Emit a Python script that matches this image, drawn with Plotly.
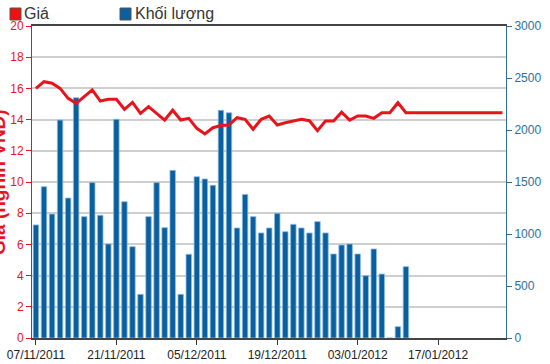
import pandas as pd
import plotly.graph_objects as go

# Trading days starting 07/11/2011 (02/01/2012 was a market holiday)
dates = [d.strftime("%d/%m/%Y")
         for d in pd.bdate_range("2011-11-07", periods=59, freq="C", holidays=["2012-01-02"])]

# Price (nghìn VNĐ), one value per trading day
price = [16.0, 16.43, 16.33, 16.0, 15.36, 15.04, 15.47, 15.9, 15.19, 15.3,
         15.3, 14.66, 15.1, 14.4, 14.83, 14.4, 13.97, 14.6, 13.97, 14.08,
         13.44, 13.08, 13.48, 13.62, 13.65, 14.12, 14.02, 13.38, 14.02, 14.23,
         13.65, 13.8, 13.91, 14.02, 13.93, 13.29, 13.91, 13.91, 14.47, 13.97,
         14.23, 14.23, 14.08, 14.44, 14.44, 15.08, 14.44, 14.44, 14.44, 14.44,
         14.44, 14.44, 14.44, 14.44, 14.44, 14.44, 14.44, 14.44, 14.44]

# Volume, one value per trading day (first 47 days)
volume = [1087, 1455, 1192, 2096, 1346, 2311, 1167, 1494, 1180, 904,
          2103, 1311, 878, 420, 1167, 1494, 1061, 1612, 420, 805,
          1551, 1529, 1468, 2189, 2166, 1058, 1381, 1167, 1010, 1058,
          1199, 1022, 1093, 1058, 1010, 1119, 1010, 808, 894, 904,
          808, 599, 856, 615, 0, 109, 686]

tick_labels = [dates[i] for i in range(0, 59, 10)]

RED = "#e8141b"
BLUE = "#0a5f9e"
AXBLUE = "#2e6f98"

fig = go.Figure()
fig.add_trace(go.Bar(
    x=dates[:len(volume)], y=volume, name="Khối lượng", yaxis="y",
    marker=dict(color=BLUE, line=dict(color="#8fbbe0", width=0.8)),
    showlegend=False,
))
fig.add_trace(go.Scatter(
    x=dates, y=price, name="Giá", yaxis="y2", mode="lines",
    line=dict(color=RED, width=3), showlegend=False,
))

fig.update_layout(
    width=550, height=364,
    margin=dict(l=32, r=44, t=26, b=26),
    paper_bgcolor="white", plot_bgcolor="white",
    font=dict(family="Liberation Sans, Arial, sans-serif", size=12),
    bargap=0.32,
    xaxis=dict(
        type="category", categoryorder="array", categoryarray=dates,
        range=[-0.49, 58.44], automargin=False,
        tickmode="array", tickvals=tick_labels, ticktext=tick_labels,
        ticks="outside", ticklen=5, tickcolor="#333",
        tickfont=dict(color="#222", size=12),
        showline=True, linecolor="#444", linewidth=2, mirror=True,
        showgrid=False, zeroline=False,
    ),
    yaxis=dict(
        side="right", range=[0, 3000], dtick=500, automargin=False,
        showgrid=False, zeroline=False,
        showline=True, linecolor=AXBLUE, linewidth=1,
        ticks="outside", ticklen=5, tickcolor=AXBLUE,
        tickfont=dict(color=AXBLUE, size=12),
    ),
    yaxis2=dict(
        overlaying="y", side="left", anchor="x",
        range=[0, 20], dtick=2,
        showgrid=True, gridcolor="#cfcfcf", gridwidth=2,
        zeroline=False,
        showline=True, linecolor=RED, linewidth=1,
        ticks="outside", ticklen=5, tickcolor=RED,
        tickfont=dict(color=RED, size=12),
        automargin=False,
    ),
    shapes=[
        dict(type="rect", xref="paper", yref="paper", layer="above",
             x0=(10 - 32) / 474, x1=(21 - 32) / 474, y0=(338 - 20) / 312, y1=(338 - 8) / 312,
             fillcolor="#ee1111", line=dict(color="#555", width=1)),
        dict(type="rect", xref="paper", yref="paper", layer="above",
             x0=(120 - 32) / 474, x1=(131 - 32) / 474, y0=(338 - 20) / 312, y1=(338 - 8) / 312,
             fillcolor=BLUE, line=dict(color="#555", width=1)),
    ],
    annotations=[
        dict(xref="paper", yref="paper", x=(22 - 32) / 474, y=(338 - 14) / 312,
             xanchor="left", yanchor="middle", text="Giá", showarrow=False,
             font=dict(size=16, color="#333")),
        dict(xref="paper", yref="paper", x=(133 - 32) / 474, y=(338 - 14) / 312,
             xanchor="left", yanchor="middle", text="Khối lượng", showarrow=False,
             font=dict(size=16, color="#333")),
        # left axis title, partly outside the page as in the original
        dict(xref="paper", yref="paper", x=(-2 - 32) / 474, y=(338 - 182) / 312,
             xanchor="center", yanchor="middle", textangle=-90,
             text="<b>Giá (nghìn VNĐ)</b>", showarrow=False,
             font=dict(size=19, color=RED)),
    ],
)

fig.write_html("out.html")
